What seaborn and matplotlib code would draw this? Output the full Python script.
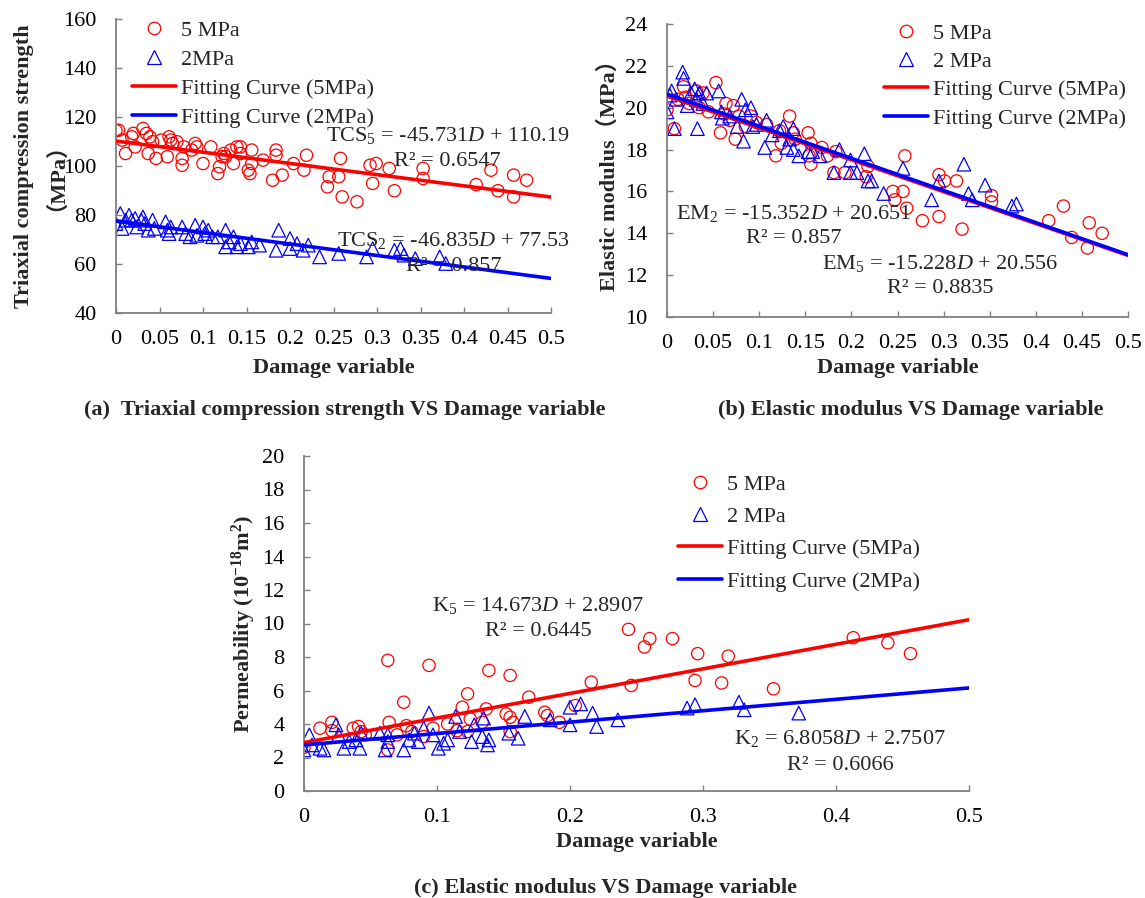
import numpy as np
import pandas as pd
import matplotlib
matplotlib.use("Agg")
import matplotlib.pyplot as plt
import seaborn as sns
from matplotlib.lines import Line2D
from matplotlib.ticker import FixedLocator, FuncFormatter

# ---------------- data ----------------
# (a) triaxial compression strength vs damage variable
a5_x = [0, 0.003, 0.007, 0.011, 0.018, 0.02, 0.022, 0.031, 0.035, 0.037, 0.039, 0.042, 0.046,
        0.052, 0.059, 0.061, 0.063, 0.065, 0.070, 0.076, 0.076, 0.078, 0.087, 0.091, 0.093, 0.1,
        0.109, 0.117, 0.119, 0.122, 0.124, 0.126, 0.132, 0.135, 0.139, 0.143, 0.143, 0.152, 0.154,
        0.156, 0.156, 0.169, 0.18, 0.184, 0.184, 0.191, 0.204, 0.216, 0.219, 0.243, 0.245, 0.256,
        0.258, 0.26, 0.277, 0.292, 0.295, 0.299, 0.314, 0.32, 0.353, 0.353, 0.414, 0.431, 0.439,
        0.457, 0.457, 0.472]
a5_y = [114.4, 114.6, 110.6, 105.1, 111.9, 113.3, 107.8, 115.3, 113.3, 105.1, 111.9, 109.9, 103.1,
        110.6, 103.8, 111.9, 110.6, 109.2, 109.9, 103.1, 100.3, 107.8, 106.5, 109.2, 107.8, 101.0,
        107.8, 96.9, 99.7, 103.8, 105.1, 103.8, 106.5, 101.0, 107.8, 107.8, 105.1, 98.3, 96.9,
        106.5, 101.0, 102.4, 94.2, 104.4, 106.5, 96.3, 101.0, 98.3, 104.4, 91.5, 95.6, 95.6,
        103.1, 87.4, 85.4, 100.3, 92.9, 101.0, 99.0, 89.9, 99.0, 94.9, 92.4, 98.3, 89.9,
        96.3, 87.4, 94.2]
a2_x = [0, 0.005, 0.007, 0.011, 0.015, 0.018, 0.022, 0.024, 0.029, 0.031, 0.033, 0.037, 0.042,
        0.044, 0.057, 0.059, 0.061, 0.063, 0.076, 0.08, 0.085, 0.091, 0.093, 0.1, 0.102, 0.106,
        0.111, 0.117, 0.126, 0.126, 0.130, 0.135, 0.139, 0.143, 0.152, 0.156, 0.165, 0.187, 0.184,
        0.2, 0.2, 0.208, 0.215, 0.221, 0.234, 0.256, 0.288, 0.295, 0.32, 0.327, 0.331, 0.344,
        0.372, 0.379]
a2_y = [76.5, 80.6, 74.5, 77.9, 79.9, 77.9, 78.6, 75.1, 77.9, 79.2, 76.5, 73.8, 77.9,
        74.5, 77.2, 73.8, 72.4, 75.1, 75.1, 72.4, 71.1, 75.8, 71.7, 75.1, 72.4, 73.8,
        71.1, 71.1, 73.8, 67.0, 69.0, 71.1, 67.0, 68.3, 67.0, 69.0, 67.7, 73.8, 65.6,
        70.4, 66.3, 68.3, 65.6, 67.7, 62.9, 64.3, 62.9, 66.3, 65.6, 66.3, 63.6, 62.2,
        62.9, 60.2]
a_fit5 = (-45.731, 110.19)
a_fit2 = (-46.835, 77.53)

# (b) elastic modulus vs damage variable
b5_x = [0, 0.008, 0.012, 0.018, 0.02, 0.024, 0.032, 0.035, 0.039, 0.045, 0.053, 0.058, 0.062,
        0.064, 0.068, 0.072, 0.074, 0.078, 0.085, 0.091, 0.097, 0.108, 0.118, 0.122, 0.124, 0.133,
        0.137, 0.139, 0.153, 0.154, 0.156, 0.156, 0.168, 0.174, 0.181, 0.183, 0.193, 0.218, 0.216,
        0.245, 0.247, 0.256, 0.258, 0.26, 0.277, 0.295, 0.295, 0.301, 0.314, 0.32, 0.352, 0.352,
        0.414, 0.43, 0.439, 0.458, 0.456, 0.472]
b5_y = [19.9, 19.0, 20.4, 21.0, 20.5, 20.2, 20.8, 20.0, 20.7, 19.8, 21.2, 18.8, 19.7,
        20.2, 19.4, 20.1, 18.5, 19.6, 19.1, 19.6, 19.3, 19.2, 17.7, 18.9, 18.3, 19.6,
        18.8, 18.5, 18.8, 17.7, 17.3, 18.3, 18.1, 17.7, 16.9, 17.9, 16.9, 17.2, 16.7,
        16.0, 15.6, 16.0, 17.7, 15.2, 14.6, 16.8, 14.8, 16.5, 16.5, 14.2, 15.8, 15.5,
        14.6, 15.3, 13.8, 14.5, 13.3, 14.0]
b2_x = [0, 0.003, 0.005, 0.008, 0.01, 0.017, 0.018, 0.022, 0.026, 0.03, 0.032, 0.033, 0.035,
        0.039, 0.043, 0.056, 0.059, 0.06, 0.068, 0.076, 0.081, 0.083, 0.085, 0.091, 0.093, 0.097,
        0.106, 0.108, 0.114, 0.122, 0.126, 0.130, 0.133, 0.137, 0.137, 0.143, 0.153, 0.158, 0.166,
        0.181, 0.187, 0.199, 0.199, 0.206, 0.214, 0.218, 0.222, 0.235, 0.256, 0.287, 0.295, 0.322,
        0.327, 0.331, 0.345, 0.374, 0.379]
b2_y = [19.8, 20.6, 20.8, 19.0, 20.4, 21.7, 21.4, 20.1, 20.7, 20.9, 20.4, 19.0, 20.7,
        20.2, 20.7, 20.8, 19.8, 19.5, 19.6, 19.1, 20.4, 18.4, 19.9, 20.0, 19.1, 19.2,
        18.1, 19.4, 18.7, 18.9, 19.1, 18.1, 18.5, 19.0, 18.0, 17.7, 17.9, 17.9, 17.7,
        16.9, 18.0, 17.5, 16.9, 16.9, 17.8, 16.5, 16.5, 15.9, 17.1, 15.6, 16.5, 17.3,
        15.9, 15.6, 16.3, 15.3, 15.4]
b_fit5 = (-15.228, 20.556)
b_fit2 = (-15.352, 20.651)

# (c) permeability vs damage variable
c5_x = [0, 0.012, 0.021, 0.021, 0.037, 0.041, 0.043, 0.046, 0.063, 0.064, 0.063, 0.07, 0.075,
        0.077, 0.081, 0.09, 0.094, 0.097, 0.108, 0.115, 0.119, 0.123, 0.125, 0.123, 0.134, 0.137,
        0.139, 0.155, 0.152, 0.155, 0.157, 0.155, 0.169, 0.181, 0.183, 0.192, 0.204, 0.216, 0.244,
        0.246, 0.256, 0.26, 0.277, 0.294, 0.296, 0.314, 0.319, 0.353, 0.413, 0.439, 0.456]
c5_y = [2.6, 3.75, 4.1, 3.6, 3.75, 3.85, 3.55, 3.35, 7.8, 4.1, 2.45, 3.35, 5.3,
        3.9, 3.55, 3.25, 7.5, 3.75, 4.0, 3.6, 5.0, 5.8, 4.3, 3.55, 4.1, 4.9,
        7.2, 6.9, 4.6, 4.4, 4.1, 3.55, 5.6, 4.7, 4.5, 4.1, 5.1, 6.5, 9.65,
        6.3, 8.6, 9.1, 9.1, 6.6, 8.2, 6.45, 8.05, 6.1, 9.15, 8.85, 8.2]
c2_x = [0, 0.004, 0.006, 0.012, 0.015, 0.024, 0.026, 0.03, 0.034, 0.039, 0.042, 0.043, 0.057,
        0.061, 0.063, 0.063, 0.075, 0.079, 0.083, 0.086, 0.09, 0.094, 0.097, 0.101, 0.105, 0.108,
        0.114, 0.117, 0.126, 0.128, 0.134, 0.135, 0.138, 0.139, 0.154, 0.161, 0.166, 0.185, 0.2,
        0.2, 0.208, 0.217, 0.22, 0.236, 0.288, 0.294, 0.327, 0.331, 0.372]
c2_y = [2.45, 3.35, 2.75, 2.55, 2.45, 3.95, 3.35, 2.55, 2.95, 3.05, 2.55, 3.45, 3.45,
        2.45, 3.35, 2.95, 2.45, 3.05, 3.45, 2.95, 3.75, 4.65, 3.35, 2.55, 2.85, 3.05,
        4.45, 3.55, 2.95, 3.95, 3.25, 4.35, 2.75, 3.05, 3.45, 3.15, 4.45, 4.25, 3.95,
        5.0, 5.2, 4.65, 3.85, 4.25, 4.95, 5.15, 5.3, 4.85, 4.65]
c_fit5 = (14.673, 2.8907)
c_fit2 = (6.8058, 2.7507)

# ---------------- style ----------------
sns.set_style("ticks")
plt.rcParams["font.family"] = ["Liberation Serif", "Noto Sans CJK SC"]
plt.rcParams["mathtext.fontset"] = "custom"
plt.rcParams["mathtext.rm"] = "Liberation Serif"
plt.rcParams["mathtext.it"] = "Liberation Serif:italic"
plt.rcParams["mathtext.bf"] = "Liberation Serif:bold"

FS = 16
RED = "#ff0000"
BLUE = "#0000ff"
SPINE = "#808080"

W, H = 1145, 898
fig = plt.figure(figsize=(W / 100, H / 100), dpi=100)


def px_axes(l, t, r, b):
    return fig.add_axes([l / W, 1 - b / H, (r - l) / W, (b - t) / H])


def style_axes(ax, xt, yt, xlim, ylim, xpad, ypad):
    ax.set_xlim(*xlim)
    ax.set_ylim(*ylim)
    ax.xaxis.set_major_locator(FixedLocator(xt))
    ax.yaxis.set_major_locator(FixedLocator(yt))
    ax.xaxis.set_major_formatter(FuncFormatter(lambda v, p: f"{v:g}"))
    ax.yaxis.set_major_formatter(FuncFormatter(lambda v, p: f"{v:g}"))
    for s in ["top", "right"]:
        ax.spines[s].set_visible(False)
    for s in ["left", "bottom"]:
        ax.spines[s].set_color(SPINE)
        ax.spines[s].set_linewidth(1.3)
    ax.tick_params(axis="both", direction="in", length=4.5, width=1.0, color=SPINE,
                   labelsize=FS, labelcolor="black")
    ax.tick_params(axis="x", pad=xpad)
    ax.tick_params(axis="y", pad=ypad)
    ax.set_facecolor("white")


def draw_panel(ax, x5, y5, x2, y2, fit5, fit2):
    sns.scatterplot(x=x5, y=y5, ax=ax, marker="o", s=78, facecolors="none",
                    edgecolors=RED, linewidth=0.9, zorder=2, legend=False)
    sns.scatterplot(x=x2, y=y2, ax=ax, marker="^", s=95, facecolors="none",
                    edgecolors=BLUE, linewidth=0.9, zorder=2, legend=False)
    xs = np.array([0.0, 0.5])
    sns.lineplot(x=xs, y=fit5[0] * xs + fit5[1], ax=ax, color=RED, linewidth=2.6, zorder=3)
    sns.lineplot(x=xs, y=fit2[0] * xs + fit2[1], ax=ax, color=BLUE, linewidth=2.6, zorder=4)


def add_legend(ax, labels, left_px, top_px, spacing):
    h = [
        Line2D([], [], ls="none", marker="o", ms=9, mfc="none", mec=RED, mew=0.9),
        Line2D([], [], ls="none", marker="^", ms=10, mfc="none", mec=BLUE, mew=0.9),
        Line2D([], [], color=RED, lw=2.6),
        Line2D([], [], color=BLUE, lw=2.6),
    ]
    leg = ax.legend(h, labels, loc="upper left",
                    bbox_to_anchor=(left_px / W, 1 - top_px / H),
                    bbox_transform=fig.transFigure, frameon=False, fontsize=FS,
                    borderpad=0, borderaxespad=0, handlelength=2.0,
                    handletextpad=0.2, labelspacing=spacing)
    leg.set_zorder(5)


xt05 = [round(0.05 * i, 2) for i in range(11)]
xt1 = [round(0.1 * i, 1) for i in range(6)]

# ---------------- panel (a) ----------------
axa = px_axes(116, 19, 551, 313)
draw_panel(axa, a5_x, a5_y, a2_x, a2_y, a_fit5, a_fit2)
style_axes(axa, xt05, list(range(40, 161, 20)), (0, 0.5), (40, 160), 12, 14)
axa.set_xlabel("Damage variable", fontsize=FS, fontweight="bold")
axa.xaxis.set_label_coords(0.5, (313 - 368) / 294)
axa.xaxis.label.set_va("center")
axa.set_ylabel("Triaxial compression strength\n（MPa）", fontsize=FS, fontweight="bold",
               linespacing=1.1)
axa.yaxis.set_label_coords((35 - 116) / 435, 0.5)
axa.yaxis.label.set_va("center")
add_legend(axa, ["5 MPa", "2MPa", "Fitting Curve (5MPa)", "Fitting Curve (2MPa)"], 132, 20, 0.38)
axa.text(0.381, 112.6, r"TCS$_5$ = -45.731$D$ + 110.19", fontsize=FS, ha="center", va="center", zorder=6)
axa.text(0.381, 101.7, "R² = 0.6547", fontsize=FS, ha="center", va="center", zorder=6)
axa.text(0.388, 69.7, r"TCS$_2$ = -46.835$D$ + 77.53", fontsize=FS, ha="center", va="center", zorder=6)
axa.text(0.388, 58.8, "R² = 0.857", fontsize=FS, ha="center", va="center", zorder=6)

# ---------------- panel (b) ----------------
axb = px_axes(667, 24, 1128, 317)
draw_panel(axb, b5_x, b5_y, b2_x, b2_y, b_fit5, b_fit2)
style_axes(axb, xt05, list(range(10, 25, 2)), (0, 0.5), (10, 24), 12, 14)
axb.set_xlabel("Damage variable", fontsize=FS, fontweight="bold")
axb.xaxis.set_label_coords(0.5, (317 - 368) / 293)
axb.xaxis.label.set_va("center")
axb.set_ylabel("Elastic modulus（MPa）", fontsize=FS, fontweight="bold")
axb.yaxis.set_label_coords((609 - 667) / 461, 0.5)
axb.yaxis.label.set_va("center")
add_legend(axb, ["5 MPa", "2 MPa", "Fitting Curve (5MPa)", "Fitting Curve (2MPa)"], 884, 23, 0.35)
axb.text(0.138, 14.94, r"EM$_2$ = -15.352$D$ + 20.651", fontsize=FS, ha="center", va="center", zorder=6)
axb.text(0.138, 13.75, "R² = 0.857", fontsize=FS, ha="center", va="center", zorder=6)
axb.text(0.296, 12.55, r"EM$_5$ = -15.228$D$ + 20.556", fontsize=FS, ha="center", va="center", zorder=6)
axb.text(0.296, 11.35, "R² = 0.8835", fontsize=FS, ha="center", va="center", zorder=6)

# ---------------- panel (c) ----------------
axc = px_axes(304, 456, 969, 791)
draw_panel(axc, c5_x, c5_y, c2_x, c2_y, c_fit5, c_fit2)
style_axes(axc, xt1, list(range(0, 21, 2)), (0, 0.5), (0, 20), 12, 14)
axc.set_xlabel("Damage variable", fontsize=FS, fontweight="bold")
axc.xaxis.set_label_coords(0.5, (791 - 842) / 335)
axc.xaxis.label.set_va("center")
axc.set_ylabel(r"Permeability (10$^{\mathbf{-18}}$m$^{\mathbf{2}}$)", fontsize=FS, fontweight="bold")
axc.yaxis.set_label_coords((244 - 304) / 665, 0.5)
axc.yaxis.label.set_va("center")
add_legend(axc, ["5 MPa", "2 MPa", "Fitting Curve (5MPa)", "Fitting Curve (2MPa)"], 678, 474, 0.53)
axc.text(0.176, 11.1, r"K$_5$ = 14.673$D$ + 2.8907", fontsize=FS, ha="center", va="center", zorder=6)
axc.text(0.176, 9.5, "R² = 0.6445", fontsize=FS, ha="center", va="center", zorder=6)
axc.text(0.403, 3.14, r"K$_2$ = 6.8058$D$ + 2.7507", fontsize=FS, ha="center", va="center", zorder=6)
axc.text(0.403, 1.55, "R² = 0.6066", fontsize=FS, ha="center", va="center", zorder=6)

# ---------------- captions ----------------
fig.text(345 / W, 1 - 410 / H, "(a)  Triaxial compression strength VS Damage variable",
         fontsize=FS, fontweight="bold", ha="center", va="center")
fig.text(911 / W, 1 - 410 / H, "(b) Elastic modulus VS Damage variable",
         fontsize=FS, fontweight="bold", ha="center", va="center")
fig.text(605 / W, 1 - 888 / H, "(c) Elastic modulus VS Damage variable",
         fontsize=FS, fontweight="bold", ha="center", va="center")

fig.savefig("out.png", dpi=100, facecolor="white")
